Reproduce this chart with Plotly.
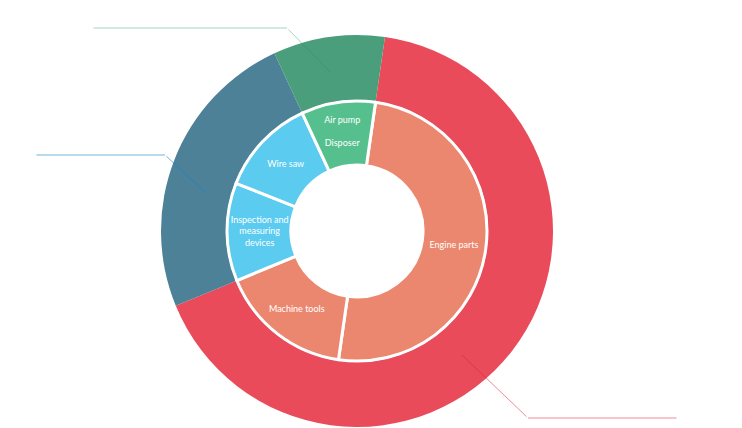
import plotly.graph_objects as go

# Outer ring (groups)
outer_labels = ["Group 1", "Group 2", "Group 3"]
outer_values = [66.5, 24.3, 9.2]
outer_colors = ["#E94B5B", "#4D8198", "#4A9E7B"]

# Inner ring (items)
inner_labels = ["Engine parts", "Machine tools", "Inspection and measuring devices", "Wire saw", "Air pump / Disposer"]
inner_text = ["Engine parts", "Machine tools", "Inspection and<br>measuring<br>devices", "Wire saw", "Air pump<br> <br>Disposer"]
inner_values = [50.0, 16.5, 12.2, 12.1, 9.2]
inner_colors = ["#EC876F", "#EC876F", "#5BCBF0", "#5BCBF0", "#55C08E"]

W, H = 742, 428
cx, cy = 357, 231
R_out, R_mid, R_in = 196, 130, 66

def dom(r):
    return dict(x=[(cx - r) / W, (cx + r) / W], y=[1 - (cy + r) / H, 1 - (cy - r) / H])

fig = go.Figure()
fig.add_trace(go.Pie(
    labels=outer_labels, values=outer_values, sort=False, direction="clockwise",
    rotation=8.2, hole=(R_mid + 1) / R_out, domain=dom(R_out),
    marker=dict(colors=outer_colors, line=dict(width=0)), textinfo="none",
    showlegend=False,
))
fig.add_trace(go.Pie(
    labels=inner_labels, values=inner_values, text=inner_text, sort=False, direction="clockwise",
    rotation=8.2, hole=R_in / R_mid, domain=dom(R_mid),
    marker=dict(colors=inner_colors, line=dict(width=3, color="white")),
    textinfo="text", textposition="inside", insidetextorientation="horizontal",
    textfont=dict(family="Lato", size=9, color="white"),
    showlegend=False,
))

# leader lines drawn as arrow-only annotations (so they sit above the rings)
def px(x, y):
    return x / W, 1 - y / H

lines = [
    ([(92, 28), (287, 28), (330, 72)], "rgba(40,150,90,0.4)"),
    ([(35, 155), (165, 155), (205, 192)], "rgba(20,130,200,0.6)"),
    ([(678, 418), (528, 418), (462, 355)], "rgba(220,30,50,0.5)"),
]
annotations = []
for pts, col in lines:
    for (x0, y0), (x1, y1) in zip(pts[:-1], pts[1:]):
        a, b = px(x1, y1)
        annotations.append(dict(
            x=a, y=b, xref="paper", yref="paper", text="", showarrow=True,
            ax=x0 - x1, ay=y0 - y1, arrowhead=0, arrowwidth=1, arrowcolor=col,
            standoff=0, startstandoff=0,
        ))

fig.update_layout(
    width=W, height=H, margin=dict(l=0, r=0, t=0, b=0),
    paper_bgcolor="white", plot_bgcolor="white", annotations=annotations,
    uniformtext=dict(minsize=9, mode="show"),
)
fig.write_html("out.html")
